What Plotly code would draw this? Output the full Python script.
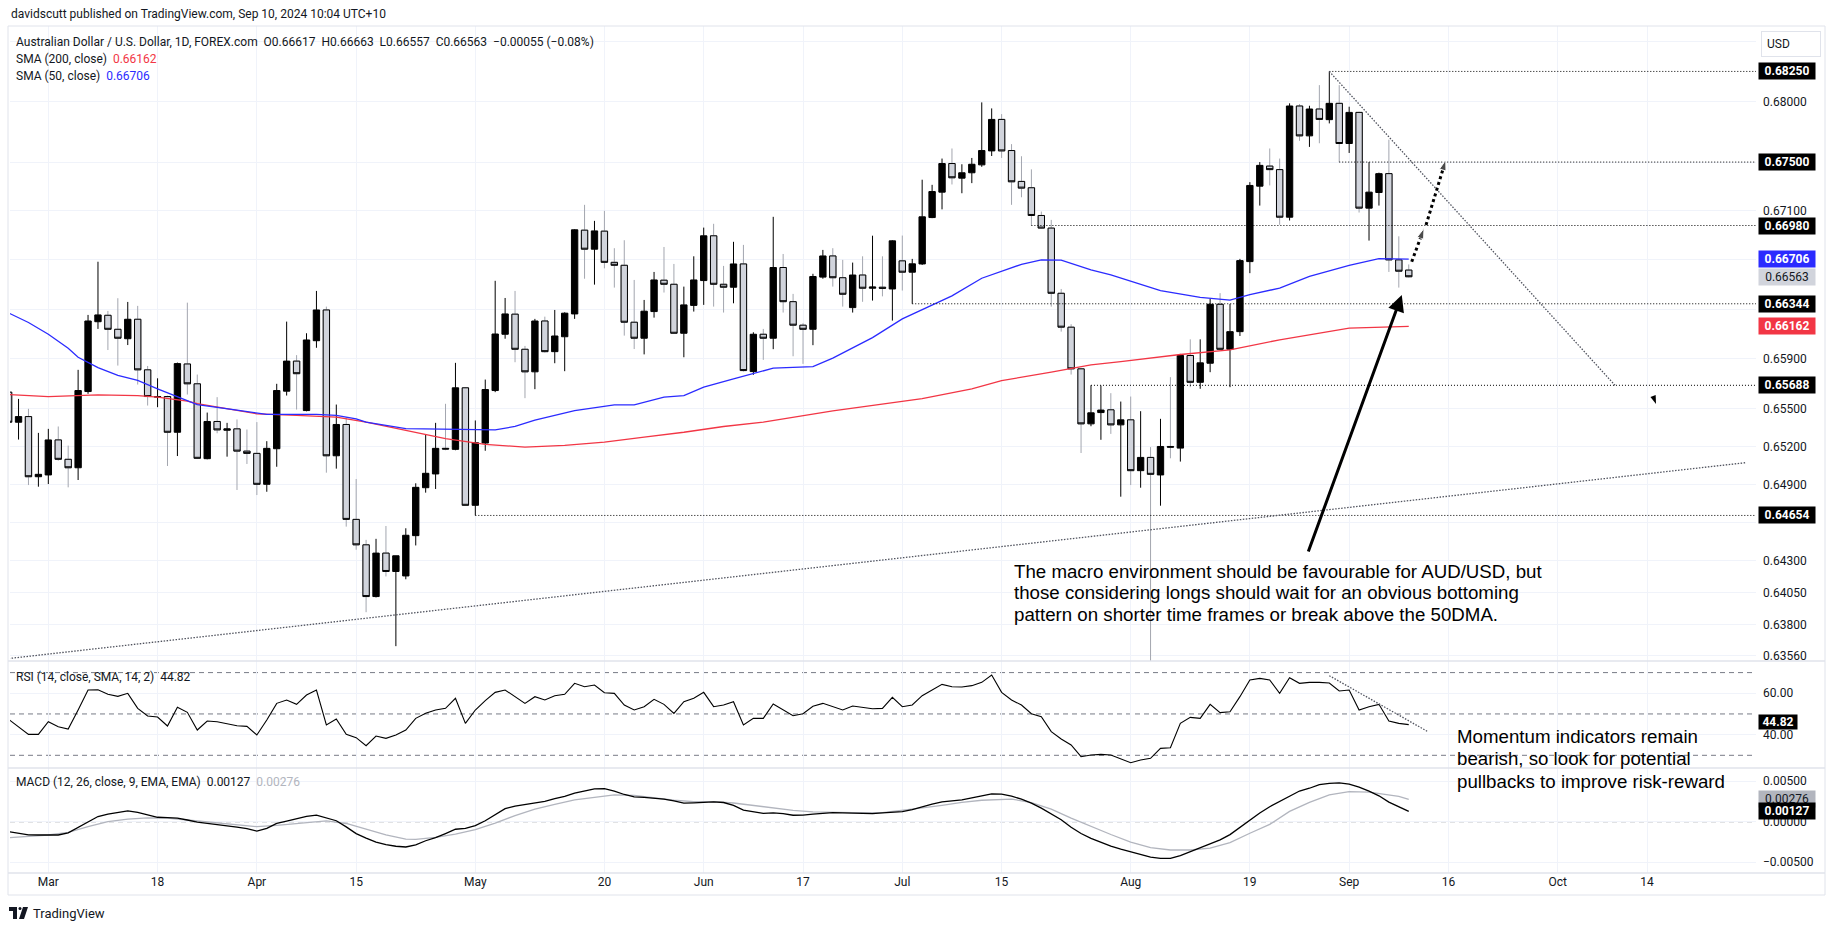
import math
import pandas as pd
import plotly.graph_objects as go
from plotly.subplots import make_subplots

# ---------------- data ----------------
dates = [d.strftime("%Y-%m-%d") for d in pd.bdate_range("2024-02-26", "2024-09-10")]

opens = [
    0.65633, 0.65393, 0.65438, 0.64960,
    0.64974, 0.65252, 0.65098, 0.65031, 0.65638, 0.66199, 0.66251, 0.66138, 0.66062, 0.66219,
    0.65812, 0.65593, 0.65598, 0.65313, 0.65859, 0.65700, 0.65103, 0.65399, 0.65329, 0.65340,
    0.65163, 0.65145, 0.64900, 0.65182, 0.65641, 0.65882, 0.65486, 0.66046, 0.66294, 0.65126,
    0.65375, 0.64623, 0.64423, 0.64018, 0.64358, 0.64214, 0.64179, 0.64495, 0.64873, 0.64982,
    0.65185, 0.65177, 0.65668, 0.64734, 0.65227, 0.65646, 0.66098, 0.66260, 0.65977, 0.65796,
    0.66205, 0.65958, 0.66078, 0.66262, 0.66942, 0.66787, 0.66934, 0.66680, 0.66656, 0.66195,
    0.66066, 0.66281, 0.66535, 0.66502, 0.66106, 0.66331, 0.66532, 0.66896, 0.66502, 0.66478,
    0.66667, 0.65798, 0.66098, 0.66066, 0.66638, 0.66361, 0.66171, 0.66138, 0.66560, 0.66732,
    0.66555, 0.66313, 0.66577, 0.66470, 0.66478, 0.66464, 0.66692, 0.66600, 0.66667, 0.67045,
    0.67253, 0.67488, 0.67368, 0.67412, 0.67477, 0.67592, 0.67852, 0.67595, 0.67341, 0.67289,
    0.67062, 0.66959, 0.66429, 0.66155, 0.65820, 0.65380, 0.65470, 0.65492, 0.65372, 0.65412,
    0.65008, 0.65113, 0.64974, 0.65200, 0.65187, 0.65927, 0.65712, 0.65865, 0.66340, 0.65977,
    0.66119, 0.66686, 0.67302, 0.67467, 0.67438, 0.67048, 0.67963, 0.67716, 0.67938, 0.67850,
    0.67985, 0.67653, 0.67910, 0.67122, 0.67250, 0.67405, 0.66700, 0.66617,
]
highs = [
    0.65660, 0.65579, 0.65500, 0.65308,
    0.65340, 0.65359, 0.65207, 0.65812, 0.66254, 0.66685, 0.66286, 0.66389, 0.66359, 0.66327,
    0.65843, 0.65744, 0.65605, 0.65870, 0.66353, 0.65774, 0.65470, 0.65593, 0.65388, 0.65415,
    0.65335, 0.65394, 0.65242, 0.65700, 0.66200, 0.65930, 0.66106, 0.66448, 0.66321, 0.65534,
    0.65433, 0.64942, 0.64462, 0.64470, 0.64571, 0.64337, 0.64553, 0.64908, 0.65295, 0.65388,
    0.65540, 0.65868, 0.65673, 0.65407, 0.65734, 0.66530, 0.66391, 0.66448, 0.66004, 0.66222,
    0.66240, 0.66294, 0.66275, 0.66950, 0.67149, 0.67018, 0.67100, 0.66795, 0.66860, 0.66537,
    0.66375, 0.66602, 0.66805, 0.66667, 0.66483, 0.66729, 0.66963, 0.66994, 0.66651, 0.66847,
    0.66822, 0.66114, 0.66141, 0.67051, 0.66748, 0.66424, 0.66187, 0.66587, 0.66781, 0.66795,
    0.66700, 0.66678, 0.66729, 0.66897, 0.66729, 0.66860, 0.66898, 0.66708, 0.67355, 0.67313,
    0.67529, 0.67612, 0.67482, 0.67534, 0.67993, 0.67943, 0.67896, 0.67648, 0.67548, 0.67440,
    0.67094, 0.67026, 0.66464, 0.66179, 0.65825, 0.65688, 0.65686, 0.65625, 0.65558, 0.65598,
    0.65481, 0.65195, 0.65420, 0.65753, 0.65940, 0.66057, 0.66057, 0.66383, 0.66430, 0.66343,
    0.66708, 0.67335, 0.67500, 0.67612, 0.67529, 0.67985, 0.67979, 0.67965, 0.68136, 0.68250,
    0.68136, 0.67957, 0.67915, 0.67500, 0.67413, 0.67685, 0.66892, 0.66663,
]
lows = [
    0.65370, 0.65255, 0.64894, 0.64881,
    0.64902, 0.65087, 0.64876, 0.64934, 0.65620, 0.66141, 0.65971, 0.65846, 0.66011, 0.65694,
    0.65526, 0.65513, 0.65045, 0.65124, 0.65614, 0.65100, 0.65098, 0.65305, 0.65119, 0.64855,
    0.65061, 0.64815, 0.64841, 0.65039, 0.65606, 0.65494, 0.65480, 0.65989, 0.64992, 0.65024,
    0.64566, 0.64384, 0.63896, 0.64011, 0.64175, 0.63632, 0.64153, 0.64418, 0.64834, 0.64863,
    0.65170, 0.65170, 0.64730, 0.64654, 0.65166, 0.65633, 0.66062, 0.65873, 0.65585, 0.65657,
    0.65950, 0.65865, 0.65801, 0.66222, 0.66547, 0.66499, 0.66631, 0.66475, 0.66087, 0.65979,
    0.65936, 0.66232, 0.66435, 0.66100, 0.65913, 0.66281, 0.66335, 0.66321, 0.66273, 0.66348,
    0.65798, 0.65772, 0.65892, 0.65978, 0.66273, 0.65921, 0.65860, 0.66010, 0.66547, 0.66483,
    0.66321, 0.66273, 0.66360, 0.66370, 0.66404, 0.66208, 0.66451, 0.66344, 0.66659, 0.67040,
    0.67112, 0.67316, 0.67244, 0.67327, 0.67461, 0.67550, 0.67534, 0.67149, 0.67211, 0.66980,
    0.66955, 0.66321, 0.66119, 0.65774, 0.65148, 0.65361, 0.65253, 0.65300, 0.64802, 0.64894,
    0.64873, 0.63490, 0.64731, 0.65106, 0.65080, 0.65673, 0.65660, 0.65793, 0.65970, 0.65673,
    0.66084, 0.66592, 0.67143, 0.67308, 0.66986, 0.67021, 0.67675, 0.67625, 0.67655, 0.67819,
    0.67500, 0.67575, 0.67086, 0.66857, 0.67143, 0.66602, 0.66475, 0.66557,
]
closes = [
    0.65393, 0.65438, 0.64960, 0.64979,
    0.65252, 0.65098, 0.65031, 0.65646, 0.66205, 0.66254, 0.66138, 0.66066, 0.66219, 0.65812,
    0.65598, 0.65598, 0.65313, 0.65862, 0.65700, 0.65106, 0.65399, 0.65332, 0.65340, 0.65163,
    0.65145, 0.64900, 0.65185, 0.65646, 0.65882, 0.65781, 0.66052, 0.66294, 0.65126, 0.65375,
    0.64623, 0.64423, 0.64018, 0.64358, 0.64214, 0.64337, 0.64498, 0.64876, 0.64987, 0.65185,
    0.65180, 0.65668, 0.64734, 0.65230, 0.65654, 0.66100, 0.66262, 0.65977, 0.65796, 0.66205,
    0.65958, 0.66084, 0.66268, 0.66945, 0.66787, 0.66936, 0.66680, 0.66656, 0.66195, 0.66066,
    0.66284, 0.66537, 0.66502, 0.66106, 0.66335, 0.66537, 0.66896, 0.66502, 0.66478, 0.66667,
    0.65806, 0.66098, 0.66066, 0.66638, 0.66361, 0.66171, 0.66138, 0.66565, 0.66732, 0.66555,
    0.66421, 0.66577, 0.66470, 0.66480, 0.66470, 0.66855, 0.66600, 0.66668, 0.67051, 0.67258,
    0.67488, 0.67371, 0.67412, 0.67482, 0.67595, 0.67852, 0.67592, 0.67338, 0.67286, 0.67062,
    0.66959, 0.66429, 0.66155, 0.65820, 0.65380, 0.65468, 0.65490, 0.65372, 0.65412, 0.65008,
    0.65113, 0.64979, 0.65200, 0.65195, 0.65927, 0.65712, 0.65868, 0.66340, 0.65977, 0.66119,
    0.66694, 0.67308, 0.67473, 0.67438, 0.67048, 0.67963, 0.67716, 0.67938, 0.67852, 0.67985,
    0.67653, 0.67910, 0.67122, 0.67253, 0.67405, 0.66700, 0.66608, 0.66563,
]

# moving averages (read at sample bars; bar 0 = 26 Feb)
sma50_bar = [0, 2, 4, 6, 7, 9, 11, 13, 15, 17, 19, 23, 25, 26, 31, 33, 35, 36, 40, 44,
             49, 51, 53, 57, 61, 63, 66, 68, 70, 73, 77, 81, 83, 87, 90, 95, 98, 102, 104, 106,
             109, 111, 116, 120, 123, 125, 128, 131, 135, 138, 141]
sma50_val = [0.66270, 0.66193, 0.66098, 0.65985, 0.65913, 0.65830, 0.65767, 0.65727, 0.65660, 0.65598,
             0.65534, 0.65490, 0.65465, 0.65455, 0.65455, 0.65447, 0.65420, 0.65393, 0.65342, 0.65340,
             0.65332, 0.65359, 0.65410, 0.65486, 0.65532, 0.65532, 0.65593, 0.65606, 0.65673, 0.65740,
             0.65825, 0.65838, 0.65906, 0.66071, 0.66222, 0.66408, 0.66551, 0.66664, 0.66700, 0.66698,
             0.66618, 0.66578, 0.66450, 0.66396, 0.66374, 0.66418, 0.66471, 0.66566, 0.66655, 0.66710,
             0.66706]
sma200_bar = [0, 4, 9, 13, 15, 18, 19, 25, 29, 33, 36, 40, 44, 48, 52, 56, 60, 64, 68, 72,
              76, 83, 92, 97, 100, 105, 109, 112, 118, 123, 128, 135, 141]
sma200_val = [0.65614, 0.65598, 0.65612, 0.65606, 0.65593, 0.65562, 0.65542, 0.65460, 0.65447, 0.65433,
              0.65393, 0.65327, 0.65263, 0.65216, 0.65195, 0.65208, 0.65235, 0.65275, 0.65313, 0.65359,
              0.65393, 0.65484, 0.65582, 0.65660, 0.65726, 0.65793, 0.65851, 0.65878, 0.65935, 0.65973,
              0.66053, 0.66147, 0.66162]

rsi = [
    47.39, 43.85, 40.14, 40.14,
    46.26, 43.85, 42.72, 51.91, 61.58, 61.74, 59.49, 58.52, 59.97, 52.71,
    49.00, 48.52, 44.17, 53.20, 50.78, 42.23, 46.59, 46.26, 45.46, 44.33,
    44.01, 39.81, 47.07, 55.13, 56.74, 54.65, 59.16, 61.58, 44.65, 47.55,
    40.14, 38.53, 34.66, 39.33, 38.20, 39.81, 42.23, 47.87, 50.29, 51.91,
    52.71, 57.55, 45.46, 51.91, 56.42, 60.45, 61.58, 58.36, 55.13, 58.36,
    56.74, 58.84, 59.49, 64.81, 63.19, 64.00, 60.29, 59.97, 54.33, 51.91,
    53.52, 57.07, 54.65, 50.29, 55.94, 57.55, 60.45, 53.52, 54.33, 55.94,
    44.65, 47.87, 47.87, 54.81, 51.91, 49.17, 50.13, 53.68, 55.13, 53.36,
    51.91, 53.84, 53.04, 52.55, 52.71, 58.03, 53.52, 54.33, 58.84, 61.58,
    64.32, 63.19, 63.03, 63.68, 65.29, 68.84, 60.45, 56.74, 54.33, 50.13,
    48.68, 41.43, 37.88, 34.98, 29.33, 30.14, 30.46, 30.14, 28.21, 26.43,
    27.72, 28.53, 33.37, 33.69, 45.46, 48.36, 47.87, 54.65, 50.62, 51.10,
    58.36, 66.42, 67.22, 66.42, 59.97, 67.55, 64.81, 65.29, 65.29, 64.97,
    61.10, 61.58, 51.91, 53.52, 54.65, 46.59, 45.46, 44.82,
]

macd = [
    -0.00123, -0.00142, -0.00163, -0.00164, -0.00164, -0.00164, -0.00138, -0.00068, -0.00001, 0.00064,
    0.00094, 0.00117, 0.00133, 0.00116, 0.00087, 0.00055, 0.00050, 0.00044, 0.00021, -0.00006,
    -0.00020, -0.00034, -0.00048, -0.00066, -0.00086, -0.00115, -0.00082, -0.00021, 0.00008, 0.00038,
    0.00066, 0.00081, 0.00046, 0.00012, -0.00064, -0.00147, -0.00202, -0.00251, -0.00283, -0.00303,
    -0.00312, -0.00287, -0.00235, -0.00197, -0.00146, -0.00093, -0.00082, -0.00049, 0.00012, 0.00089,
    0.00161, 0.00193, 0.00212, 0.00229, 0.00252, 0.00284, 0.00313, 0.00352, 0.00381, 0.00406,
    0.00407, 0.00378, 0.00336, 0.00307, 0.00300, 0.00288, 0.00279, 0.00257, 0.00229, 0.00233,
    0.00239, 0.00244, 0.00237, 0.00202, 0.00143, 0.00120, 0.00103, 0.00109, 0.00101, 0.00080,
    0.00082, 0.00094, 0.00102, 0.00111, 0.00108, 0.00106, 0.00102, 0.00099, 0.00109, 0.00118,
    0.00125, 0.00150, 0.00187, 0.00218, 0.00246, 0.00258, 0.00270, 0.00295, 0.00319, 0.00344,
    0.00340, 0.00316, 0.00278, 0.00229, 0.00168, 0.00099, 0.00025, -0.00068, -0.00146, -0.00205,
    -0.00256, -0.00301, -0.00339, -0.00374, -0.00409, -0.00438, -0.00453, -0.00453, -0.00419, -0.00370,
    -0.00323, -0.00275, -0.00225, -0.00159, -0.00071, 0.00026, 0.00107, 0.00185, 0.00253, 0.00315,
    0.00379, 0.00413, 0.00457, 0.00474, 0.00479, 0.00464, 0.00428, 0.00377, 0.00320, 0.00242,
    0.00187, 0.00127,
]
signal_bar = [0, 2, 4, 6, 8, 10, 12, 14, 16, 18, 20, 23, 25, 27, 30, 32, 34, 36, 38, 40,
              41, 43, 45, 47, 49, 51, 53, 55, 57, 59, 61, 63, 65, 67, 69, 71, 73, 75, 77, 79,
              81, 83, 85, 88, 90, 92, 94, 96, 98, 100, 101, 103, 105, 107, 109, 111, 113, 115, 117, 119,
              121, 123, 125, 127, 129, 131, 133, 135, 137, 139, 140, 141]
signal_val = [-0.00197, -0.00177, -0.00164, -0.00132, -0.00061, 0.00000, 0.00033, 0.00048, 0.00044, 0.00021,
              -0.00004, -0.00036, -0.00061, -0.00045, -0.00009, 0.00011, -0.00022, -0.00094, -0.00163, -0.00215,
              -0.00218, -0.00193, -0.00154, -0.00099, -0.00018, 0.00075, 0.00156, 0.00214, 0.00270, 0.00301,
              0.00331, 0.00325, 0.00291, 0.00265, 0.00249, 0.00247, 0.00231, 0.00200, 0.00163, 0.00140,
              0.00121, 0.00113, 0.00111, 0.00111, 0.00136, 0.00170, 0.00202, 0.00239, 0.00265, 0.00280,
              0.00280, 0.00236, 0.00155, 0.00045, -0.00060, -0.00158, -0.00251, -0.00320, -0.00349, -0.00349,
              -0.00325, -0.00259, -0.00142, -0.00033, 0.00128, 0.00239, 0.00332, 0.00371, 0.00364, 0.00335,
              0.00313, 0.00276]

# horizontal levels drawn on the chart: (start date, price)
level_start = ["2024-08-29", "2024-08-30", "2024-07-18", "2024-07-02", "2024-07-26", "2024-05-01"]
level_price = [0.68250, 0.67500, 0.66980, 0.66344, 0.65688, 0.64654]

# trend lines
up_trend_x = ["2024-02-26", "2024-10-28"]
up_trend_y = [0.63536, 0.65072]
down_trend_x = ["2024-08-29", "2024-10-08 18:29"]
down_trend_y = [0.68250, 0.65688]
rsi_trend_x = ["2024-08-29", "2024-09-11 22:34"]
rsi_trend_y = [68.5, 41.4]

# dotted arrow paths (projected move)
dot_arrow1_x = ["2024-09-10 07:12", "2024-09-11 12:58"]
dot_arrow1_y = [0.66685, 0.66957]
dot_arrow2_x = ["2024-09-11 17:46", "2024-09-13 17:31"]
dot_arrow2_y = [0.66984, 0.67517]
solid_arrow_tip = ("2024-09-09 07:12", 0.66415)
small_head = ("2024-10-14 21:36", 0.65538)

tick_dates = ["2024-03-01", "2024-03-18", "2024-04-01", "2024-04-15", "2024-05-01", "2024-05-20",
              "2024-06-03", "2024-06-17", "2024-07-01", "2024-07-15", "2024-08-01", "2024-08-19",
              "2024-09-02", "2024-09-16", "2024-10-01", "2024-10-14"]
tick_text = ["Mar", "18", "Apr", "15", "May", "20", "Jun", "17", "Jul", "15", "Aug", "19",
             "Sep", "16", "Oct", "14"]
price_ticks = [0.685, 0.680, 0.675, 0.671, 0.667, 0.663, 0.659, 0.655, 0.652, 0.649, 0.646,
               0.643, 0.6405, 0.638, 0.6356]
price_ticks_hidden = [0.685, 0.675, 0.667, 0.663, 0.646]   # covered by price badges / USD box

# ---------------- layout geometry ----------------
W_FIG, H_FIG = 1835, 931
ML, MR, MT, MB = 10, 79, 26, 58
PW = W_FIG - ML - MR
PH = H_FIG - MT - MB


def px(x):
    return (x - ML) / PW


def py(y):
    return (H_FIG - MB - y) / PH


X_RANGE = ["2024-02-26 03:22", "2024-10-28 23:18"]
P_TOP, P_BOT = 0.68629, 0.63517
RSI_RANGE = [23.86, 75.61]
MACD_RANGE = [-0.00633, 0.00663]

BLUE = "#2b2bff"
RED = "#f23645"
TXT = "#131722"
GRID = "#f0f3fa"
BORDER = "#e0e3eb"
FONT = "Roboto, 'Open Sans', sans-serif"
NOTE_FONT = "'Liberation Sans', Arial, sans-serif"
FINE_DOT = "1px,2px"
TREND_DOT = "1.5px,1.5px"

fig = make_subplots(rows=3, cols=1, shared_xaxes=True, vertical_spacing=0.0)

# candles: wicks + bodies
fig.add_trace(go.Candlestick(
    x=dates, open=opens, high=highs, low=lows, close=closes,
    increasing=dict(line=dict(color="#000000", width=1), fillcolor="#000000"),
    decreasing=dict(line=dict(color="#a3a6af", width=1), fillcolor="#d1d4dc"),
    whiskerwidth=0, hoverinfo="skip", showlegend=False), row=1, col=1)
dn = [k for k in range(len(dates)) if closes[k] < opens[k]]
fig.add_trace(go.Candlestick(
    x=[dates[k] for k in dn], open=[opens[k] for k in dn], high=[opens[k] for k in dn],
    low=[closes[k] for k in dn], close=[closes[k] for k in dn],
    increasing=dict(line=dict(color="#000000", width=1), fillcolor="#d1d4dc"),
    decreasing=dict(line=dict(color="#000000", width=1), fillcolor="#d1d4dc"),
    whiskerwidth=0, hoverinfo="skip", showlegend=False), row=1, col=1)

fig.add_trace(go.Scatter(x=[dates[k] for k in sma200_bar], y=sma200_val, mode="lines",
                         line=dict(color=RED, width=1.3), hoverinfo="skip"), row=1, col=1)
fig.add_trace(go.Scatter(x=[dates[k] for k in sma50_bar], y=sma50_val, mode="lines",
                         line=dict(color=BLUE, width=1.3), hoverinfo="skip"), row=1, col=1)

for s, p in zip(level_start, level_price):
    fig.add_trace(go.Scatter(x=[s, "2024-12-31"], y=[p, p], mode="lines",
                             line=dict(color="#000000", width=1, dash=FINE_DOT), hoverinfo="skip"),
                  row=1, col=1)

fig.add_trace(go.Scatter(x=up_trend_x, y=up_trend_y, mode="lines",
                         line=dict(color="#50535e", width=1.3, dash=TREND_DOT), hoverinfo="skip"), row=1, col=1)
fig.add_trace(go.Scatter(x=down_trend_x, y=down_trend_y, mode="lines",
                         line=dict(color="#50535e", width=1.3, dash=TREND_DOT), hoverinfo="skip"), row=1, col=1)

for ax_, ay_ in [(dot_arrow1_x, dot_arrow1_y), (dot_arrow2_x, dot_arrow2_y)]:
    fig.add_trace(go.Scatter(x=ax_, y=ay_, mode="lines+markers",
                             line=dict(color="#000000", width=3, dash="dot"),
                             marker=dict(symbol="arrow", size=[0, 11], angleref="previous",
                                         color="#000000"),
                             hoverinfo="skip"), row=1, col=1)
fig.add_trace(go.Scatter(x=[small_head[0]], y=[small_head[1]], mode="markers",
                         marker=dict(symbol="arrow", size=9, angle=160, color="#000000"),
                         hoverinfo="skip"), row=1, col=1)

# RSI pane
fig.add_trace(go.Scatter(x=dates, y=rsi, mode="lines", line=dict(color="#000000", width=1.1),
                         hoverinfo="skip"), row=2, col=1)
fig.add_trace(go.Scatter(x=rsi_trend_x, y=rsi_trend_y, mode="lines",
                         line=dict(color="#50535e", width=1.3, dash=TREND_DOT), hoverinfo="skip"), row=2, col=1)

# MACD pane
fig.add_trace(go.Scatter(x=[dates[k] for k in signal_bar], y=signal_val, mode="lines",
                         line=dict(color="#b2b5be", width=1.3), hoverinfo="skip"), row=3, col=1)
fig.add_trace(go.Scatter(x=dates, y=macd, mode="lines", line=dict(color="#000000", width=1.3),
                         hoverinfo="skip"), row=3, col=1)

fig.update_layout(
    width=W_FIG, height=H_FIG, autosize=False,
    margin=dict(l=ML, r=MR, t=MT, b=MB),
    paper_bgcolor="white", plot_bgcolor="white",
    showlegend=False, hovermode=False,
    boxgap=0.2, boxgroupgap=0.2, boxmode="overlay",
    font=dict(family=FONT, size=12, color=TXT),
)

for ax in ["xaxis", "xaxis2", "xaxis3"]:
    fig.layout[ax].update(
        type="date", range=X_RANGE, rangebreaks=[dict(bounds=["sat", "mon"])],
        tickmode="array", tickvals=tick_dates, ticktext=tick_text,
        showgrid=True, gridcolor=GRID, gridwidth=1, zeroline=False, showline=False,
        ticks="", rangeslider=dict(visible=False), showticklabels=(ax == "xaxis3"),
        tickfont=dict(size=12, color=TXT, family=FONT), fixedrange=True,
    )

fig.layout.yaxis.update(
    type="log", range=[math.log10(P_BOT), math.log10(P_TOP)], domain=[py(661), 1.0],
    side="right", tickmode="array", tickvals=price_ticks,
    ticktext=["" if v in price_ticks_hidden else f"{v:.5f}" for v in price_ticks],
    showgrid=True, gridcolor=GRID, zeroline=False, showline=False, ticks="",
    ticklabelstandoff=6, tickfont=dict(size=12, color=TXT, family=FONT), fixedrange=True)
fig.layout.yaxis2.update(
    range=RSI_RANGE, domain=[py(768), py(661)], side="right", tickmode="array",
    tickvals=[40, 60], ticktext=["40.00", "60.00"], showgrid=True, gridcolor=GRID,
    zeroline=False, showline=False, ticks="", ticklabelstandoff=6,
    tickfont=dict(size=12, color=TXT, family=FONT), fixedrange=True)
fig.layout.yaxis3.update(
    range=MACD_RANGE, domain=[0.0, py(768)], side="right", tickmode="array",
    tickvals=[-0.005, 0.0, 0.005], ticktext=["\u22120.00500", "0.00000", "0.00500"],
    showgrid=True, gridcolor=GRID, zeroline=False, showline=False, ticks="",
    ticklabelstandoff=6, tickfont=dict(size=12, color=TXT, family=FONT), fixedrange=True)

# RSI bands and MACD zero line
for v in [70, 50, 30]:
    fig.add_shape(type="line", xref="paper", x0=0, x1=1, yref="y2", y0=v, y1=v,
                  line=dict(color="#787b86", width=1, dash="5px,4px"), layer="between")
fig.add_shape(type="line", xref="paper", x0=0, x1=1, yref="y3", y0=0, y1=0,
              line=dict(color="#787b86", width=1, dash="5px,4px"), layer="between")

# frame and pane separators
fig.add_shape(type="rect", xref="paper", yref="paper", x0=px(8), x1=px(1825), y0=py(895), y1=py(26),
              line=dict(color=BORDER, width=1), fillcolor="rgba(0,0,0,0)", layer="above")
for yy in [661, 768, 873]:
    fig.add_shape(type="line", xref="paper", yref="paper", x0=px(8), x1=px(1825), y0=py(yy), y1=py(yy),
                  line=dict(color=BORDER, width=1.5), layer="above")

# solid arrow
fig.add_annotation(x=solid_arrow_tip[0], y=math.log10(solid_arrow_tip[1]), xref="x", yref="y",
                   ax=-94, ay=258, showarrow=True, arrowhead=2, arrowsize=1.1, arrowwidth=3,
                   arrowcolor="#000000", text="")


def badge(val, text, yref, bg, fg, width=54, bold=True, yshift=0, pad=1):
    yv = math.log10(val) if yref == "y" else val
    fig.add_annotation(xref="paper", x=px(1758), xanchor="left", yref=yref, y=yv, yanchor="middle",
                       text=f"<b>{text}</b>" if bold else text, showarrow=False, bgcolor=bg,
                       font=dict(color=fg, size=12, family=FONT), borderpad=pad, width=width,
                       align="center", yshift=yshift)


for p in level_price:
    badge(p, f"{p:.5f}", "y", "#000000", "#ffffff")
badge(sma50_val[-1], f"{sma50_val[-1]:.5f}", "y", BLUE, "#ffffff")
badge(closes[-1], f"{closes[-1]:.5f}", "y", "#d1d4dc", TXT, bold=False)
badge(sma200_val[-1], f"{sma200_val[-1]:.5f}", "y", RED, "#ffffff")
badge(rsi[-1], f"{rsi[-1]:.2f}", "y2", "#000000", "#ffffff", width=38, yshift=3, pad=0)
badge(signal_val[-1], f"{signal_val[-1]:.5f}", "y3", "#b2b5be", TXT, bold=False)
badge(macd[-1], f"{macd[-1]:.5f}", "y3", "#000000", "#ffffff")


def label(x, y, text, size=12, color=TXT, family=FONT):
    fig.add_annotation(xref="paper", yref="paper", x=px(x), y=py(y), xanchor="left",
                       yanchor="middle", text=text, showarrow=False,
                       font=dict(size=size, color=color, family=family), align="left")


label(9, 14, "davidscutt published on TradingView.com, Sep 10, 2024 10:04 UTC+10")
label(14, 42.3, "Australian Dollar / U.S. Dollar, 1D, FOREX.com&nbsp;&nbsp;O0.66617&nbsp;&nbsp;H0.66663"
                "&nbsp;&nbsp;L0.66557&nbsp;&nbsp;C0.66563&nbsp;&nbsp;\u22120.00055 (\u22120.08%)")
label(14, 59, f"SMA (200, close)&nbsp;&nbsp;<span style='color:{RED}'>{sma200_val[-1]:.5f}</span>")
label(14, 75.7, f"SMA (50, close)&nbsp;&nbsp;<span style='color:{BLUE}'>{sma50_val[-1]:.5f}</span>")
label(14, 677, f"RSI (14, close, SMA, 14, 2)&nbsp;&nbsp;{rsi[-1]:.2f}")
label(14, 782, f"MACD (12, 26, close, 9, EMA, EMA)&nbsp;&nbsp;{macd[-1]:.5f}&nbsp;&nbsp;"
               f"<span style='color:#b2b5be'>{signal_val[-1]:.5f}</span>")

MACRO = ["The macro environment should be favourable for AUD/USD, but",
         "those considering longs should wait for an obvious bottoming",
         "pattern on shorter time frames or break above the 50DMA."]
for line, yy in zip(MACRO, [571, 592.5, 614]):
    label(1012, yy, line, size=18.7, color="#000000", family=NOTE_FONT)
MOMENTUM = ["Momentum indicators remain",
            "bearish, so look for potential",
            "pullbacks to improve risk-reward"]
for line, yy in zip(MOMENTUM, [736, 758.5, 781]):
    label(1455, yy, line, size=18.7, color="#000000", family=NOTE_FONT)

# currency box
fig.add_annotation(xref="paper", yref="paper", x=px(1761), y=py(44), xanchor="left", yanchor="middle",
                   text="USD", showarrow=False, bgcolor="white", bordercolor=BORDER, borderwidth=1,
                   borderpad=5, width=48, align="left", font=dict(size=12, color=TXT, family=FONT))

# footer logo
fig.add_shape(type="rect", xref="paper", yref="paper", x0=px(9), x1=px(17), y0=py(911), y1=py(907),
              fillcolor="#131722", line=dict(width=0))
fig.add_shape(type="rect", xref="paper", yref="paper", x0=px(13), x1=px(17), y0=py(919), y1=py(907),
              fillcolor="#131722", line=dict(width=0))
fig.add_shape(type="circle", xref="paper", yref="paper", x0=px(18.5), x1=px(21.5), y0=py(910), y1=py(907),
              fillcolor="#131722", line=dict(width=0))
fig.add_shape(type="path", xref="paper", yref="paper",
              path=f"M {px(23)} {py(907)} L {px(28)} {py(907)} L {px(24)} {py(919)} L {px(19)} {py(919)} Z",
              fillcolor="#131722", line=dict(width=0))
label(31, 913, "TradingView", size=13)

fig.write_html("out.html", config={"displayModeBar": False},
               post_script="document.body.style.margin='0px';document.body.style.overflow='hidden';")
